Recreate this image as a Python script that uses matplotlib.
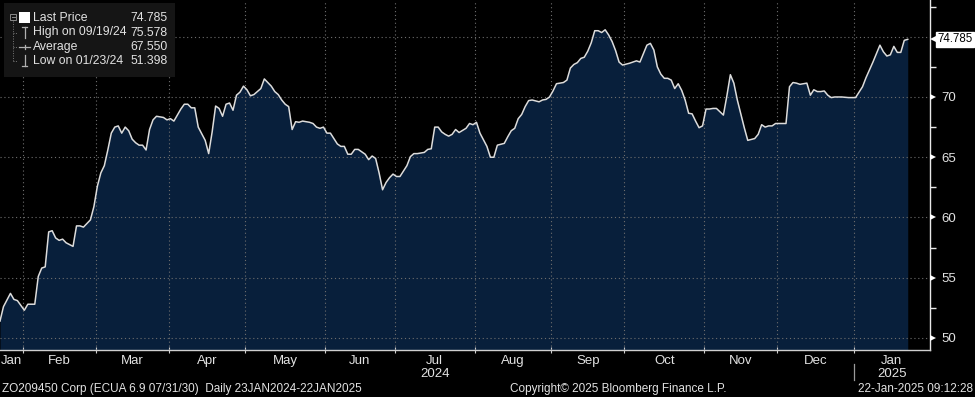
import numpy as np
import pandas as pd
import matplotlib
matplotlib.use('Agg')
import matplotlib.pyplot as plt
from matplotlib.lines import Line2D
from matplotlib.patches import Rectangle
from matplotlib.transforms import blended_transform_factory

# --- 数据 (business-day offset from 23JAN2024, last price) ---
bday = [0, 1, 3, 4, 5, 7, 8, 10, 11, 12, 13, 14, 15, 16, 17, 18, 19, 21, 22, 23,
        24, 26, 27, 28, 29, 30, 31, 32, 33, 34, 35, 36, 37, 38, 39, 40, 41, 42, 43, 44,
        45, 47, 48, 49, 50, 52, 53, 54, 55, 56, 57, 59, 60, 61, 62, 63, 64, 65, 66, 67,
        68, 69, 70, 71, 72, 73, 75, 76, 78, 79, 80, 81, 82, 83, 84, 85, 86, 87, 89, 90,
        91, 92, 93, 94, 95, 97, 98, 99, 100, 101, 102, 103, 105, 106, 107, 108, 109, 110, 111, 112,
        113, 114, 115, 117, 118, 119, 120, 122, 123, 124, 125, 126, 127, 128, 129, 130, 131, 132, 134, 135,
        136, 137, 138, 140, 141, 142, 143, 145, 146, 147, 148, 149, 150, 151, 152, 153, 155, 156, 157, 158,
        159, 160, 162, 163, 164, 165, 166, 167, 168, 169, 170, 171, 172, 173, 174, 175, 176, 177, 178, 179,
        181, 182, 183, 184, 185, 186, 187, 188, 189, 190, 191, 192, 193, 194, 195, 196, 197, 198, 199, 200,
        201, 202, 203, 204, 205, 206, 208, 209, 210, 211, 212, 214, 215, 217, 218, 219, 220, 221, 222, 223,
        225, 226, 227, 228, 229, 230, 232, 233, 234, 235, 236, 237, 238, 239, 240, 242, 244, 246, 248, 249,
        251, 252, 253, 254, 255, 256, 257, 258, 259, 260, 261]
price = [51.40, 52.6, 53.7, 53.2, 53.1, 52.3, 52.8, 52.8, 55.1, 55.8, 55.9, 58.8, 58.9, 58.3, 58.1, 58.2, 57.9, 57.6, 59.3, 59.3,
         59.2, 59.8, 60.9, 62.6, 63.7, 64.3, 65.6, 67.0, 67.5, 67.6, 67.0, 67.5, 67.2, 66.5, 66.2, 66.0, 66.0, 65.6, 67.3, 68.1,
         68.4, 68.3, 68.1, 68.2, 68.0, 69.0, 69.4, 69.4, 69.1, 69.1, 67.5, 66.4, 65.3, 67.1, 69.25, 69.05, 68.4, 69.4, 69.5, 68.9,
         70.15, 70.4, 70.9, 70.6, 70.1, 70.2, 70.7, 71.5, 70.9, 70.45, 70.2, 69.75, 69.4, 69.2, 67.3, 67.95, 67.9, 68.0, 67.9, 67.8,
         67.5, 67.4, 67.5, 67.0, 67.0, 66.1, 65.9, 65.9, 65.25, 65.25, 65.65, 65.65, 65.25, 64.8, 65.1, 64.9, 63.7, 62.3, 62.9, 63.3,
         63.6, 63.4, 63.4, 64.3, 65.05, 65.3, 65.3, 65.4, 65.65, 65.7, 67.5, 67.5, 67.1, 66.9, 66.75, 66.9, 67.3, 67.05, 67.4, 67.8,
         67.7, 67.9, 67.0, 65.9, 65.0, 65.0, 66.0, 66.15, 66.7, 67.2, 67.4, 68.2, 68.55, 69.2, 69.7, 69.75, 69.6, 69.75, 69.8, 70.0,
         70.5, 71.1, 71.2, 71.4, 72.4, 72.7, 72.85, 73.2, 73.3, 73.8, 74.5, 75.5, 75.5, 75.35, 75.578, 75.15, 74.6, 73.85, 72.9, 72.65,
         72.8, 72.9, 73.0, 72.9, 73.6, 74.3, 74.45, 73.9, 72.5, 71.9, 71.55, 71.55, 71.4, 70.7, 71.1, 70.55, 69.75, 68.65, 68.6, 68.0,
         67.45, 67.6, 69.0, 69.0, 69.05, 69.05, 68.5, 70.1, 71.85, 71.15, 69.75, 67.45, 66.4, 66.55, 66.9, 67.7, 67.5, 67.6, 67.6, 67.8,
         67.8, 67.8, 70.85, 71.2, 71.15, 71.05, 71.15, 70.15, 70.6, 70.45, 70.45, 70.5, 70.15, 69.95, 70.0, 70.0, 69.95, 69.95, 70.85, 71.6,
         72.9, 73.6, 74.3, 73.75, 73.4, 73.5, 74.2, 73.7, 73.7, 74.7, 74.785]

start_date = '2024-01-23'
end_date = '2025-01-22'
y_major = [50, 55, 60, 65, 70]
y_minor = [52.5, 57.5, 62.5, 67.5, 72.5, 77.5]

legend_names = ['Last Price', 'High on 09/19/24', 'Average', 'Low on 01/23/24']
legend_values = ['74.785', '75.578', '67.550', '51.398']
last_price = 74.785

footer_left = 'ZO209450 Corp (ECUA 6.9 07/31/30)  Daily 23JAN2024-22JAN2025'
footer_mid = 'Copyright\u00a9 2025 Bloomberg Finance L.P.'
footer_right = '22-Jan-2025 09:12:28'

# --- 样式 ---
W, H = 975, 397
FILL = '#081f3b'
GRID = '#6e6e6e'
TXT = '#e2e2e2'
plain = ['Liberation Sans', 'DejaVu Sans']


def fx(px):
    return px / W


def fy(py):
    return 1 - py / H


def main():
    dates = pd.bdate_range(start_date, end_date)
    n_days = len(dates)

    fig = plt.figure(figsize=(W / 100, H / 100), dpi=100, facecolor='black')
    ax = fig.add_axes([0, fy(350), fx(930), 350 / H])
    ax.set_facecolor('black')

    x = np.array(bday)
    y = np.array(price)
    ax.set_xlim(0, n_days + 5.4)
    ax.set_ylim(49.0, 78.05)

    ax.fill_between(x, y, 49.0, color=FILL, lw=0, zorder=1)
    ax.plot(x, y, color='#dcdcdc', lw=1.1, zorder=3)

    # month boundaries on the business-day scale
    months = dates.to_period('M')
    bounds = [i - 0.5 for i in range(1, n_days) if months[i] != months[i - 1]]
    for b in bounds:
        ax.axvline(b, color=GRID, lw=0.8, ls=(0, (1, 2.5)), zorder=2)
    for v in y_major + [75]:
        ax.axhline(v, color=GRID, lw=0.8, ls=(0, (1, 2.5)), zorder=2)

    for s in ['top', 'left']:
        ax.spines[s].set_visible(False)
    ax.spines['right'].set_color('#e8e8e8')
    ax.spines['bottom'].set_color('#cfcfcf')
    ax.spines['right'].set_linewidth(1.0)
    ax.spines['bottom'].set_linewidth(1.0)

    # right axis
    ax.yaxis.tick_right()
    ax.set_yticks(y_major)
    ax.set_yticks(y_minor, minor=True)
    ax.tick_params(axis='y', which='major', length=0, pad=8, labelcolor=TXT, labelsize=9.5)
    ax.tick_params(axis='y', which='minor', length=4, color='#e8e8e8', width=1)
    for lab in ax.get_yticklabels():
        lab.set_family(plain)
    ytr = ax.get_yaxis_transform()
    ax.plot([1.0 + 3.5 / 930] * len(y_major), y_major, transform=ytr, ls='none',
            marker='>', ms=4.5, color='white', mew=0, clip_on=False, zorder=5)

    # last price tag
    ax.plot([1.0 + 5 / 930], [last_price], transform=ytr, ls='none', marker='<',
            ms=7, color='white', mew=0, clip_on=False, zorder=5)
    ax.text(1.0 + 7.5 / 930, last_price, '%.3f' % last_price, transform=ytr,
            ha='left', va='center', fontsize=8.3, color='black', family=plain,
            bbox=dict(boxstyle='square,pad=0.15', fc='white', ec='white'), zorder=6)

    # bottom axis
    ax.set_xticks(bounds)
    ax.tick_params(axis='x', length=5, direction='inout', color='#cfcfcf', labelbottom=False)
    btr = blended_transform_factory(ax.transData, fig.transFigure)
    edges = [-0.5] + bounds + [n_days + 5.4]
    for i in range(len(edges) - 1):
        first = int(np.ceil(edges[i] + 0.5)) if i > 0 else 0
        lbl = dates[first].strftime('%b')
        cx = (max(edges[i], 0) + edges[i + 1]) / 2
        ax.text(cx, fy(361), lbl, transform=btr, ha='center', va='center',
                color=TXT, fontsize=9.5, family=plain)
        if dates[first].month == 7:
            ax.text(cx, fy(374), str(dates[first].year), transform=btr, ha='center',
                    va='center', color=TXT, fontsize=9.5, family=plain)
        if dates[first].month == 1 and i > 0:
            ax.text(cx, fy(374), str(dates[first].year), transform=btr, ha='center',
                    va='center', color=TXT, fontsize=9.5, family=plain)
            ax.plot([edges[i], edges[i]], [fy(364), fy(380)], transform=btr,
                    color='#9a9a9a', lw=0.9, clip_on=False)

    # footer
    fig.text(fx(2), fy(389), footer_left, ha='left', va='center', color=TXT,
             fontsize=8.5, family=plain)
    fig.text(fx(618), fy(389), footer_mid, ha='center', va='center', color=TXT,
             fontsize=8.5, family=plain)
    fig.text(fx(973), fy(389), footer_right, ha='right', va='center', color=TXT,
             fontsize=8.5, family=plain)

    # legend box top-left
    fig.patches.append(Rectangle((fx(4), fy(77)), fx(171), 74 / H, transform=fig.transFigure,
                                 fc='#151515', ec='none', zorder=4))
    rows = [18, 32.5, 47, 61]
    for r, name, val in zip(rows, legend_names, legend_values):
        fig.text(fx(33), fy(r), name, ha='left', va='center', color=TXT,
                 fontsize=8.8, family=plain, zorder=6)
        fig.text(fx(168), fy(r), val, ha='right', va='center', color=TXT,
                 fontsize=8.8, family=plain, zorder=6)

    def pline(xs, ys, **kw):
        fig.lines.append(Line2D([fx(v) for v in xs], [fy(v) for v in ys],
                                transform=fig.transFigure, zorder=6, **kw))

    # tree connectors and icons
    fig.patches.append(Rectangle((fx(10), fy(20)), fx(6), 6 / H, transform=fig.transFigure,
                                 fc='none', ec='#8a8a8a', lw=0.7, zorder=6))
    pline([11.5, 14.5], [17, 17], color='#8a8a8a', lw=0.7)
    pline([13, 13], [21, 61], color='#777777', lw=0.7, ls=(0, (1, 1.5)))
    for r in rows[1:]:
        pline([13, 17], [r, r], color='#777777', lw=0.7, ls=(0, (1, 1.5)))
    fig.patches.append(Rectangle((fx(19), fy(23)), fx(11), 11 / H, transform=fig.transFigure,
                                 fc='white', ec='none', zorder=6))
    pline([24.5, 24.5], [27, 38], color='#b0b0b0', lw=0.9)
    pline([22, 27], [27, 27], color='#b0b0b0', lw=0.9)
    pline([19, 30], [47, 47], color='#b0b0b0', lw=0.9)
    pline([24.5, 24.5], [45, 49], color='#b0b0b0', lw=0.9)
    pline([24.5, 24.5], [55, 66], color='#b0b0b0', lw=0.9)
    pline([22, 27], [66, 66], color='#b0b0b0', lw=0.9)

    fig.savefig('out.png', dpi=100, facecolor='black')


if __name__ == '__main__':
    main()
